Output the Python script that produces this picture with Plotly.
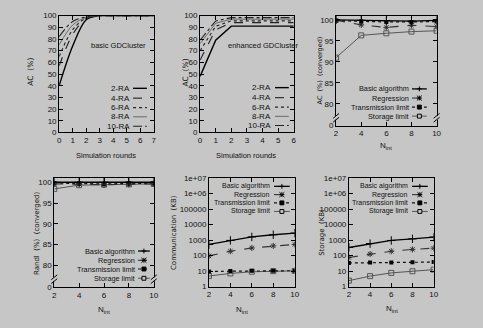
import plotly.graph_objects as go

W, H = 483, 328
BG = "#c6c6c6"
INK = "#111111"
TICKFONT = "Liberation Sans, Arial, sans-serif"
TITLEFONT = "DejaVu Sans, sans-serif"

# ---------------- data ----------------
ra_labels = ["2-RA", "4-RA", "6-RA", "8-RA", "10-RA"]

rounds_basic = [0, 1, 2, 3, 4, 5, 6, 7]
ac_basic_2ra = [40, 74, 96.5, 100, 100, 100, 100, 100]
ac_basic_4ra = [57, 84, 97.5, 100, 100, 100, 100, 100]
ac_basic_6ra = [65, 88, 98, 100, 100, 100, 100, 100]
ac_basic_8ra = [75, 92, 98.5, 100, 100, 100, 100, 100]
ac_basic_10ra = [82, 95, 99, 100, 100, 100, 100, 100]

rounds_enh = [0, 1, 2, 3, 4, 5, 6]
ac_enh_2ra = [48, 79, 91, 91, 91, 91, 91]
ac_enh_4ra = [62, 88, 94, 94, 94, 94, 94]
ac_enh_6ra = [70, 91, 95.5, 95.5, 95.5, 95.5, 95.5]
ac_enh_8ra = [76, 93.5, 97, 97, 97, 97, 97]
ac_enh_10ra = [79, 95.5, 98.3, 98.3, 98.3, 98.3, 98.3]

method_labels = ["Basic algorithm", "Regression", "Transmission limit", "Storage limit"]
n_int = [2, 4, 6, 8, 10]

ac_conv_basic = [100, 99.9, 99.8, 99.7, 99.9]
ac_conv_regression = [99.9, 98.8, 98.2, 98.7, 98.4]
ac_conv_transmission = [99.8, 99.6, 99.5, 99.5, 99.6]
ac_conv_storage = [91.0, 96.3, 96.8, 97.2, 97.4]

randi_basic = [100, 100, 100, 100, 100]
randi_regression = [99.6, 99.5, 99.4, 99.5, 99.6]
randi_transmission = [99.8, 99.7, 99.6, 99.7, 99.7]
randi_storage = [98.4, 99.3, 99.4, 99.5, 99.6]

comm_basic = [520, 950, 1600, 2200, 2800]
comm_regression = [95, 190, 310, 420, 520]
comm_transmission = [9.5, 10, 10.5, 10.5, 10.5]
comm_storage = [4.8, 7, 9, 9.8, 10.2]

stor_basic = [330, 590, 940, 1200, 1550]
stor_regression = [75, 125, 190, 250, 300]
stor_transmission = [33, 35, 36, 37, 38]
stor_storage = [2.4, 4.7, 7.6, 9.7, 12.3]

log_ticks = [1, 10, 100, 1000, 10000, 100000, 1000000, 10000000]
log_ticktext = ["1", "10", "100", "1000", "10000", "100000", "1e+06", "1e+07"]
conv_ticks = [74.8, 80, 85, 90, 95, 100]
conv_ticktext = ["0", "80", "85", "90", "95", "100"]

# ---------------- styles ----------------
ra_styles = [
    dict(color="#000000", width=1.4, dash="solid"),
    dict(color="#222222", width=1.1, dash="dash"),
    dict(color="#222222", width=1.1, dash="dot"),
    dict(color="#6a6a6a", width=1.0, dash="solid"),
    dict(color="#222222", width=1.1, dash="dashdot"),
]
method_styles = [
    (dict(color="#000000", width=1.3, dash="solid"), dict(symbol="cross-thin-open", size=6, line=dict(width=1, color="#000"))),
    (dict(color="#333333", width=1.1, dash="dash"), dict(symbol="asterisk-open", size=5, line=dict(width=1, color="#000"))),
    (dict(color="#111111", width=1.2, dash="dot"), dict(symbol="square", size=4, color="#000", line=dict(width=0))),
    (dict(color="#555555", width=1.0, dash="solid"), dict(symbol="square-open", size=5, line=dict(width=1, color="#000"))),
]
legend_kinds = ["plus", "star", "fsq", "osq"]

# panel frames in pixels (left, right, top, bottom)
frames = {
    1: (58, 154, 12, 132),
    2: (201, 296, 12, 132),
    3: (339, 441, 12, 125),
    4: (53, 154, 179, 291),
    5: (210, 297, 179, 290.5),
    6: (352, 438, 179, 290.5),
}

def fx(px):
    return px / W

def fy(py):
    return 1 - py / H

fig = go.Figure()

def add_series(i, x, y, line, marker=None, shape="linear"):
    sfx = "" if i == 1 else str(i)
    fig.add_trace(go.Scatter(
        x=x, y=y, mode="lines+markers" if marker else "lines",
        line=dict(shape=shape, smoothing=0.9 if shape == "spline" else None, **line),
        marker=marker, xaxis="x" + sfx, yaxis="y" + sfx, showlegend=False,
        hoverinfo="skip"))

for ys, st in zip([ac_basic_2ra, ac_basic_4ra, ac_basic_6ra, ac_basic_8ra, ac_basic_10ra], ra_styles):
    add_series(1, rounds_basic, ys, st, shape="spline")
for ys, st in zip([ac_enh_2ra, ac_enh_4ra, ac_enh_6ra, ac_enh_8ra, ac_enh_10ra], ra_styles):
    add_series(2, rounds_enh, ys, st)
for ys, (ln, mk) in zip([ac_conv_storage, ac_conv_transmission, ac_conv_regression, ac_conv_basic], method_styles[::-1]):
    add_series(3, n_int, ys, ln, mk)
for ys, (ln, mk) in zip([randi_storage, randi_transmission, randi_regression, randi_basic], method_styles[::-1]):
    add_series(4, n_int, ys, ln, mk)
for ys, (ln, mk) in zip([comm_storage, comm_transmission, comm_regression, comm_basic], method_styles[::-1]):
    add_series(5, n_int, ys, ln, mk)
for ys, (ln, mk) in zip([stor_storage, stor_transmission, stor_regression, stor_basic], method_styles[::-1]):
    add_series(6, n_int, ys, ln, mk)

common = dict(showline=True, linecolor="#000", linewidth=1, mirror="allticks",
              ticks="inside", ticklen=4, tickcolor="#000", tickwidth=1,
              showgrid=False, zeroline=False,
              tickfont=dict(family=TICKFONT, size=8, color=INK))

xcfg = {
    1: dict(range=[0, 7], tickvals=rounds_basic),
    2: dict(range=[0, 6], tickvals=rounds_enh),
    3: dict(range=[2, 10], tickvals=n_int),
    4: dict(range=[2, 10], tickvals=n_int),
    5: dict(range=[2, 10], tickvals=n_int),
    6: dict(range=[2, 10], tickvals=n_int),
}
ycfg = {
    1: dict(range=[0, 100], dtick=10),
    2: dict(range=[0, 100], dtick=10),
    3: dict(range=[74.8, 101], tickvals=conv_ticks, ticktext=conv_ticktext),
    4: dict(range=[74.8, 101], tickvals=conv_ticks, ticktext=conv_ticktext),
    5: dict(type="log", range=[0, 7], tickvals=log_ticks, ticktext=log_ticktext),
    6: dict(type="log", range=[0, 7], tickvals=log_ticks, ticktext=log_ticktext),
}

layout = dict(width=W, height=H, margin=dict(l=0, r=0, t=0, b=0),
              paper_bgcolor=BG, plot_bgcolor=BG, showlegend=False)
for i, (l, r, t, b) in frames.items():
    sfx = "" if i == 1 else str(i)
    layout["xaxis" + sfx] = dict(domain=[fx(l), fx(r)], anchor="y" + sfx, **common, **xcfg[i])
    layout["yaxis" + sfx] = dict(domain=[fy(b), fy(t)], anchor="x" + sfx, **common, **ycfg[i])
fig.update_layout(**layout)

annotations = []
shapes = []

def text(x, y, s, size=8, angle=0, xanchor="center", family=TITLEFONT):
    annotations.append(dict(x=fx(x), y=fy(y), xref="paper", yref="paper", text=s,
                            showarrow=False, textangle=angle, xanchor=xanchor, yanchor="middle",
                            font=dict(family=family, size=size, color=INK)))

# axis titles
text(28, 70, "AC  (%)", angle=-90, size=7.5)
text(186, 70, "AC  (%)", angle=-90, size=7.5)
text(323, 68, "AC  (%)  (converged)", angle=-90, size=6.5)
text(35, 235, "Randl  (%)  (converged)", angle=-90, size=7)
text(174, 235, "Communication  (KB)", angle=-90, size=7)
text(324, 235, "Storage  (KB)", angle=-90, size=7)
text(106, 156, "Simulation rounds", size=7.5, family=TICKFONT)
text(248, 156, "Simulation rounds", size=7.5, family=TICKFONT)
text(390, 146, "N<sub>int</sub>", size=8, family=TICKFONT)
text(104, 315, "N<sub>int</sub>", size=8, family=TICKFONT)
text(244, 315, "N<sub>int</sub>", size=8, family=TICKFONT)
text(396, 314, "N<sub>int</sub>", size=8, family=TICKFONT)
text(118, 43, "basic GDCluster", size=7.5, family=TICKFONT)
text(265, 43, "enhanced GDCluster", size=7.5, family=TICKFONT)

def legend_line(x0, x1, y, line):
    shapes.append(dict(type="line", xref="paper", yref="paper", x0=fx(x0), x1=fx(x1), y0=fy(y), y1=fy(y),
                       line=dict(color=line["color"], width=line["width"], dash=line["dash"])))

def legend_marker(kind, cx, cy):
    d = 2.5
    if kind in ("plus", "star"):
        for (dx0, dy0, dx1, dy1) in [(-d, 0, d, 0), (0, -d, 0, d)] + ([(-d, -d, d, d), (-d, d, d, -d)] if kind == "star" else []):
            shapes.append(dict(type="line", xref="paper", yref="paper", x0=fx(cx + dx0), y0=fy(cy + dy0),
                               x1=fx(cx + dx1), y1=fy(cy + dy1), line=dict(color="#000", width=1)))
    else:
        s = 2
        shapes.append(dict(type="rect", xref="paper", yref="paper", x0=fx(cx - s), x1=fx(cx + s),
                           y0=fy(cy + s), y1=fy(cy - s), line=dict(color="#000", width=1),
                           fillcolor="#000" if kind == "fsq" else BG))

def ra_legend(xr, xs0, xs1, ys):
    for lab, st, y in zip(ra_labels, ra_styles, ys):
        text(xr, y, lab, size=8, xanchor="right", family=TICKFONT)
        legend_line(xs0, xs1, y, st)

def method_legend(xr, xs0, xs1, ys, size=7.3):
    for lab, (ln, mk), kind, y in zip(method_labels, method_styles, legend_kinds, ys):
        text(xr, y, lab, size=size, xanchor="right", family=TICKFONT)
        legend_line(xs0, xs1, y, ln)
        legend_marker(kind, (xs0 + xs1) / 2, y)

ra_legend(132, 133, 147, [86.7, 96.8, 106.5, 116, 125.7])
ra_legend(275, 277, 291, [86, 96.3, 106, 115.5, 125])
method_legend(415, 416, 431, [87.3, 96.7, 106, 115.3])
method_legend(137, 138, 150, [254, 263.5, 272.5, 282])
method_legend(274, 276, 292, [187.5, 196, 204.5, 213.3], size=7)
method_legend(414, 416, 432, [187.5, 196, 204.5, 213.3], size=7)

# axis break marks on the converged panels
for i in (3, 4):
    l, r, t, b = frames[i]
    for px in (l, r):
        yb = b - 8
        shapes.append(dict(type="rect", xref="paper", yref="paper", x0=fx(px - 2), x1=fx(px + 2),
                           y0=fy(yb + 2), y1=fy(yb - 2), line=dict(width=0), fillcolor=BG))
        for off in (-2, 2):
            shapes.append(dict(type="line", xref="paper", yref="paper",
                               x0=fx(px - 3), y0=fy(yb + off + 2.5), x1=fx(px + 3), y1=fy(yb + off - 2.5),
                               line=dict(color="#000", width=1)))

fig.update_layout(annotations=annotations, shapes=shapes)
fig.write_html("out.html")
